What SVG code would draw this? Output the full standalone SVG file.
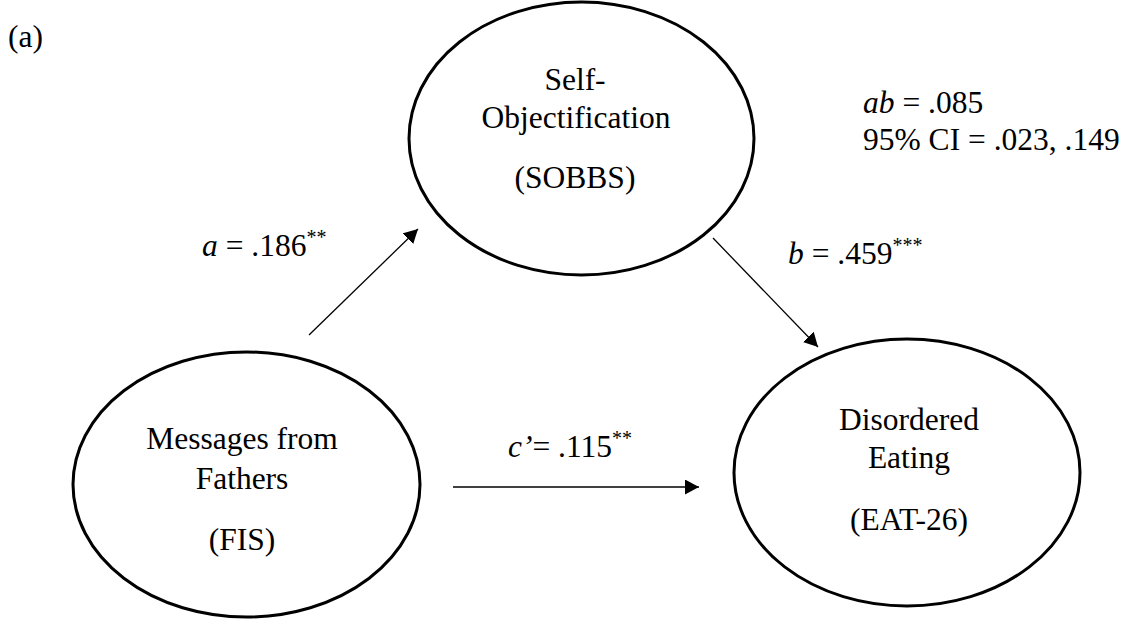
<svg xmlns="http://www.w3.org/2000/svg" width="1131" height="620" viewBox="0 0 1131 620">
<style>
text{font-family:"Liberation Serif","Times New Roman",serif;font-size:31.5px;fill:#000}
.c{text-anchor:middle}
.i{font-style:italic}
.sup{font-size:20px}
ellipse{fill:#fff;stroke:#000;stroke-width:3}
.edge{stroke:#000;stroke-width:1.3;fill:none;marker-end:url(#ah)}
</style>
<defs>
<marker id="ah" markerUnits="userSpaceOnUse" markerWidth="16" markerHeight="16" refX="14" refY="7.5" orient="auto">
<path d="M0,0 L14,7.5 L0,15 z" fill="#000"/>
</marker>
</defs>
<rect width="1131" height="620" fill="#fff"/>
<text x="8" y="47">(a)</text>
<g id="connectors">
<line class="edge" x1="309" y1="335" x2="418" y2="229"/>
<line class="edge" x1="713" y1="238" x2="818" y2="347"/>
<line class="edge" x1="453" y1="487" x2="699" y2="487"/>
</g>
<g id="node-sobbs">
<ellipse cx="581.5" cy="138.5" rx="172.5" ry="136.5"/>
<text class="c" x="575" y="90">Self-</text>
<text class="c" x="576" y="128">Objectification</text>
<text class="c" x="575" y="188">(SOBBS)</text>
</g>
<g id="node-fis">
<ellipse cx="246.5" cy="484.5" rx="173.5" ry="132.5"/>
<text class="c" x="242" y="449">Messages from</text>
<text class="c" x="242" y="489">Fathers</text>
<text class="c" x="242" y="550">(FIS)</text>
</g>
<g id="node-eat">
<ellipse cx="907" cy="472.5" rx="173" ry="133.5"/>
<text class="c" x="909" y="430">Disordered</text>
<text class="c" x="909" y="468">Eating</text>
<text class="c" x="909" y="530">(EAT-26)</text>
</g>
<g id="labels">
<text x="202" y="256"><tspan class="i">a</tspan> = .186<tspan class="sup" dy="-12">**</tspan></text>
<text x="788" y="264"><tspan class="i">b</tspan> = .459<tspan class="sup" dy="-12">***</tspan></text>
<text x="508" y="457"><tspan class="i">c’</tspan>= .115<tspan class="sup" dy="-12">**</tspan></text>
<text x="863" y="113"><tspan class="i">ab</tspan> = .085</text>
<text x="863" y="150">95% CI = .023, .149</text>
</g>
</svg>
